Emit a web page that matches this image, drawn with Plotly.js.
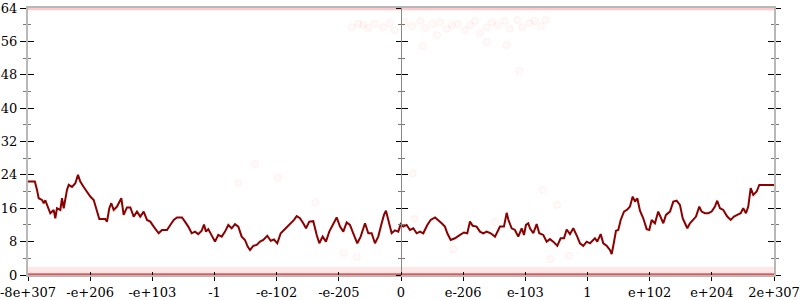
<!DOCTYPE html>
<html>
<head>
<meta charset="utf-8">
<script src="https://cdn.plot.ly/plotly-3.0.1.min.js"></script>
<style>html,body{margin:0;padding:0;background:#fff;}#chart{width:800px;height:300px;}</style>
</head>
<body>
<div id="chart"></div>
<script>
// Tick labels on the bit-pattern axis (13 evenly spaced positions)
const tickPos = [0,1,2,3,4,5,6,7,8,9,10,11,12];
const tickLabels = ["-8e+307","-e+206","-e+103","-1","-e-102","-e-205","0","e-206","e-103","1","e+102","e+204","2e+307"];

// Main series (dark red line)
const linePos = [0,0.11,0.145,0.172,0.225,0.253,0.278,0.306,0.333,0.359,0.413,0.439,0.466,0.52,0.547,0.574,0.627,0.655,0.708,0.761,0.804,0.841,0.896,0.949,1.002,1.057,1.11,1.147,1.243,1.271,1.308,1.34,1.378,1.432,1.501,1.539,1.592,1.646,1.7,1.753,1.806,1.861,1.914,1.967,2.022,2.102,2.155,2.236,2.289,2.344,2.397,2.477,2.525,2.578,2.633,2.686,2.739,2.794,2.831,2.863,2.9,2.955,3.008,3.061,3.116,3.169,3.222,3.276,3.33,3.383,3.437,3.49,3.534,3.571,3.624,3.679,3.732,3.785,3.849,3.904,3.957,4.01,4.065,4.118,4.171,4.226,4.279,4.322,4.375,4.428,4.472,4.525,4.589,4.644,4.686,4.74,4.793,4.846,4.901,4.965,5.019,5.072,5.126,5.179,5.232,5.297,5.351,5.421,5.474,5.528,5.581,5.634,5.689,5.726,5.758,5.795,5.85,5.903,5.956,5.995,6.037,6.091,6.144,6.198,6.252,6.305,6.358,6.423,6.477,6.547,6.6,6.654,6.707,6.745,6.799,6.868,6.949,7.013,7.066,7.11,7.153,7.217,7.27,7.323,7.378,7.443,7.512,7.565,7.592,7.656,7.7,7.726,7.78,7.833,7.886,7.941,7.978,8.01,8.047,8.075,8.128,8.182,8.224,8.289,8.343,8.396,8.449,8.514,8.568,8.622,8.665,8.718,8.771,8.835,8.879,8.932,8.987,9.04,9.12,9.157,9.212,9.254,9.308,9.361,9.389,9.415,9.458,9.495,9.534,9.587,9.64,9.683,9.727,9.764,9.801,9.844,9.897,9.952,9.994,10.032,10.085,10.138,10.177,10.219,10.262,10.327,10.38,10.434,10.487,10.531,10.568,10.605,10.648,10.701,10.745,10.798,10.836,10.89,10.943,10.997,11.05,11.087,11.131,11.184,11.248,11.303,11.356,11.409,11.464,11.505,11.549,11.586,11.625,11.667,11.721,11.763,11.802,12];
const lineVal = [22.4,22.4,20.4,18.4,18,17.2,17.9,16.8,15.6,14.8,15.6,13.6,16,15.6,18.4,16,20.4,21.6,21.1,22,24,22.4,21.1,20,18.8,18,15.2,13.4,13.4,12.8,16,17.2,15.6,16.4,18.4,14.4,16.2,16.2,14,15.2,14,15.2,13.2,12.8,11.6,10,10.8,10.8,12,13.2,13.8,13.8,12.8,11.6,10,10.4,9.8,10.6,12.1,10.4,11,9.6,8,9.6,9.2,10.4,12,11.2,12.2,11.6,9.2,8.4,6.8,6,7,7.2,8,8.4,9.4,8.2,8.5,7.6,10,10.8,11.6,12.4,13.2,14.1,13.6,12.4,11.2,12.8,12.9,9.6,7.6,9.2,8,10.4,12,13.8,11.6,10.4,12.6,12,10,7.6,9.2,12.4,10,10,7.6,9.2,12.4,14.4,15.4,13.2,10,10.7,10.4,12.2,11.6,12,10.8,11.2,10,10.4,10,12,13.2,13.8,13.2,12.4,11.6,10,8.4,8.8,9.6,10.2,10,12.8,11.8,11.6,10.4,10,10.4,10,9.2,10.8,11.6,11.6,14.9,13.3,11.2,10.8,9.2,11.2,9.6,12,12.4,11.2,10,12.2,10,9.6,8,8.6,8,7,8.8,8.8,10.9,9.8,11.2,9.2,7.6,7,8,7.6,8.8,8,9.8,7.6,7,6,5,7,10.6,10.8,13.2,15.2,15.7,16.4,18.8,17.6,18.4,15.4,13.6,11,10.8,13.2,12.4,15.2,14,12.4,14.4,15.2,17.6,17.8,16.8,13.6,12.4,11.2,12.4,13.2,14,16.4,15.2,14.8,14.8,15.2,16.4,17.8,16,15.6,14,13.2,14,14.4,14.8,16,14.8,16.4,20.8,19.2,20,21.6,21.6,21.6];

// Faint scattered points
const dotPos = [5.21,5.31,5.39,5.47,5.58,5.71,5.82,5.90,6.06,6.18,6.31,6.39,6.51,6.58,6.63,6.74,6.82,6.92,7.03,7.11,7.19,7.27,7.38,7.46,7.56,7.67,7.75,7.87,7.95,8.07,8.15,8.25,8.33,7.70,7.90,6.35,7.38,3.38,3.65,4.02,4.62,5.08,5.29,6.19,6.22,6.84,7.51,8.28,8.51,8.40,8.70];
const dotVal = [59.4,60.2,59.9,59.2,60.2,59.4,60.4,58.7,60.6,59.7,60.9,59.2,60.2,57.5,60.6,59.0,59.9,60.2,58.7,59.9,60.9,58.0,59.4,60.6,59.9,60.9,59.0,61.1,59.4,60.4,60.9,59.7,61.1,55.1,48.9,54.9,55.8,22.1,26.6,23.3,17.3,5.3,4.3,24.4,13.4,6.2,12.7,20.4,16.8,3.8,4.6];

// Dense bands of points along the extremes
const bandPos = [0,12];
const bandTopVal = [63.75,63.75];
const bandLowVal = [1.2,1.2];
const bandZeroVal = [0.2,0.2];

const serif = "DejaVu Serif";

const traces = [
  {x: bandPos, y: bandLowVal, mode:'lines', line:{color:'rgba(255,60,60,0.12)', width:6}, hoverinfo:'skip'},
  {x: bandPos, y: bandZeroVal, mode:'lines', line:{color:'rgba(228,40,40,0.8)', width:2}, hoverinfo:'skip'},
  {x: bandPos, y: bandTopVal, mode:'lines', line:{color:'rgba(255,60,60,0.28)', width:2.5}, hoverinfo:'skip'},
  {x: dotPos, y: dotVal, mode:'markers', marker:{size:7, color:'rgba(255,0,0,0.025)', line:{color:'rgba(255,0,0,0.05)', width:1}}, hoverinfo:'skip'},
  {x: linePos, y: lineVal, mode:'lines', line:{color:'#8b0000', width:2}},
  {x:[], y:[], xaxis:'x2', yaxis:'y'},
  {x:[], y:[], xaxis:'x', yaxis:'y2'},
  {x:[], y:[], xaxis:'x', yaxis:'y3'},
  {x:[], y:[], xaxis:'x', yaxis:'y4'},
  {x:[], y:[], xaxis:'x', yaxis:'y5'},
  {x:[], y:[], xaxis:'x', yaxis:'y6'}
];

const yCommon = {range:[0,64], tick0:0, dtick:8, showgrid:false, zeroline:false, tickcolor:'#000', tickwidth:1};
const minorOut = {ticks:'outside', dtick:4, tick0:0, ticklen:3, tickcolor:'#777', showgrid:false};
const minorIn = {ticks:'inside', dtick:4, tick0:0, ticklen:3, tickcolor:'#777', showgrid:false};

const layout = {
  width:800, height:300,
  margin:{l:28, r:26, t:8, b:25},
  paper_bgcolor:'#fff', plot_bgcolor:'#fff',
  showlegend:false,
  font:{family:serif, size:13, color:'#000'},
  xaxis:{range:[0,12], tickvals:tickPos, ticktext:tickLabels, ticks:'outside', ticklen:4, tickcolor:'#000',
         showline:true, linecolor:'#b8b8b8', linewidth:2, mirror:true, showgrid:false, zeroline:false,
         ticklabeloverflow:'allow', tickfont:{family:serif, size:13, color:'#000'}},
  xaxis2:{range:[0,12], overlaying:'x', anchor:'y', side:'bottom', tickvals:tickPos, ticks:'inside', ticklen:3,
          tickcolor:'#000', showticklabels:false, showline:false, showgrid:false, zeroline:false},
  yaxis:Object.assign({}, yCommon, {ticks:'outside', ticklen:6, showline:true, linecolor:'#b8b8b8', linewidth:2,
         minor:minorOut, ticklabeloverflow:'allow', tickfont:{family:serif, size:13, color:'#000'}}),
  yaxis2:Object.assign({}, yCommon, {overlaying:'y', anchor:'x', side:'left', ticks:'inside', ticklen:6,
         minor:minorIn, showticklabels:false, showline:false}),
  yaxis3:Object.assign({}, yCommon, {overlaying:'y', anchor:'x', side:'right', ticks:'outside', ticklen:5,
         minor:minorOut, showticklabels:false, showline:true, linecolor:'#b8b8b8', linewidth:2}),
  yaxis4:Object.assign({}, yCommon, {overlaying:'y', anchor:'x', side:'right', ticks:'inside', ticklen:6,
         minor:minorIn, showticklabels:false, showline:false}),
  yaxis5:Object.assign({}, yCommon, {overlaying:'y', anchor:'free', position:0.5, side:'left', ticks:'outside', ticklen:5,
         minor:minorOut, showticklabels:false, showline:true, linecolor:'#888', linewidth:1}),
  yaxis6:Object.assign({}, yCommon, {overlaying:'y', anchor:'free', position:0.5, side:'left', ticks:'inside', ticklen:6,
         minor:minorIn, showticklabels:false, showline:false})
};

Plotly.newPlot('chart', traces, layout, {staticPlot:true, displayModeBar:false});
</script>
</body>
</html>
